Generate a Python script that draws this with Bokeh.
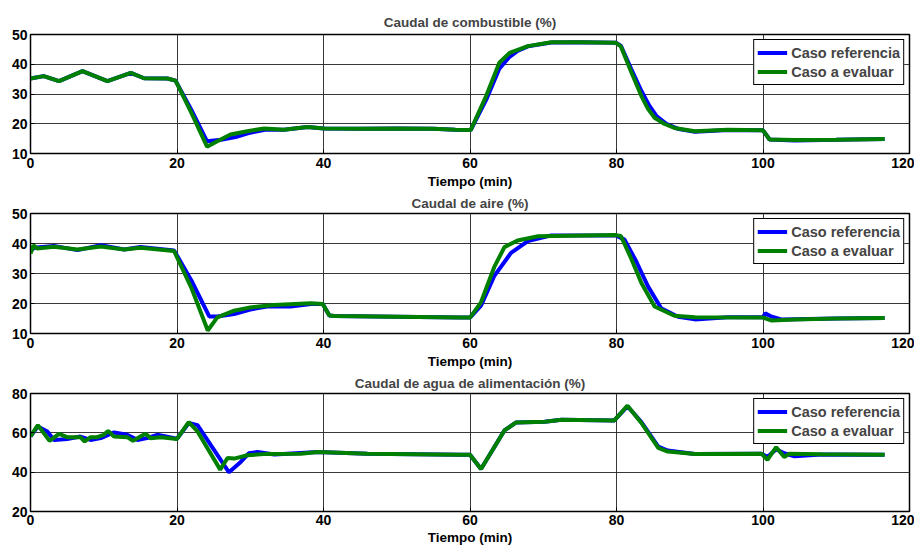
from bokeh.plotting import figure
from bokeh.layouts import column
from bokeh.embed import file_html
from bokeh.resources import INLINE

# ---------------- data ----------------
# Panel 1: Caudal de combustible (%)
t_comb_ref = [0, 1.8, 3.9, 7.1, 10.5, 13.7, 15.5, 18.7, 19.8, 22, 24.1, 26, 28, 30, 32, 34.6, 37.8, 40.1, 45, 50, 55, 58, 60.1,
              62.2, 64, 65.4, 66.5, 67.9, 71.1, 75, 79.9, 80.6, 82, 83.4, 84.5, 85.5, 86.8, 88.5, 90.7, 95.2, 100, 100.9,
              104.3, 110, 116.6]
y_comb_ref = [35.2, 36, 34.3, 37.7, 34.3, 37.1, 35.3, 35.2, 34.5, 24.5, 14.1, 14.6, 15.5, 17, 18, 18, 18.9, 18.4, 18.3, 18.4, 18.3, 18, 17.9,
              28, 38.5, 42.5, 44.5, 46, 47.3, 47.4, 47.2, 46.2, 38.5, 31, 26, 22.5, 20, 18.2, 17.3, 17.9, 17.8, 14.7,
              14.4, 14.6, 14.9]
t_comb_eval = [0, 1.8, 3.9, 7.1, 10.5, 13.7, 15.5, 18.7, 19.8, 22, 24.1, 25.5, 27.3, 29.6, 31.9, 34.6, 37.8, 40.1, 45, 50, 55, 58, 60.1,
               62.2, 64, 65.4, 67.9, 71.1, 75, 79.9, 80.6, 82, 83.4, 84.3, 85.2, 86.5, 87.9, 90.7, 95.2, 100, 100.9,
               104.3, 110, 116.6]
y_comb_eval = [35.2, 36, 34.3, 37.7, 34.3, 37.1, 35.3, 35.2, 34.5, 23.5, 12.3, 14.1, 16.4, 17.5, 18.4, 18, 18.9, 18.4, 18.3, 18.4, 18.3, 18, 17.9,
               29.3, 40.5, 43.8, 46.1, 47.4, 47.4, 47.2, 46, 37.5, 29.3, 25, 22, 20, 18.6, 17.5, 18, 17.8, 14.7,
               14.5, 14.6, 14.9]

# Panel 2: Caudal de aire (%)
t_aire_ref = [0, 0.5, 3.2, 6.4, 9.6, 12.8, 15, 19.6, 22, 24.4, 25.5, 27.8, 30, 32.3, 35.5, 38.3, 39.9, 40.8, 41.5, 50, 58.8, 60,
              61.5, 63.3, 65.6, 67.9, 71.1, 79.9, 81.1, 82.7, 84.3, 86.1, 88.4, 90.7, 95.2, 100, 100.3, 101.2, 102.5, 110, 116.6]
y_aire_ref = [37.5, 38.6, 39.2, 37.8, 39.4, 38, 38.8, 37.7, 27.5, 15.7, 15.7, 16.5, 18, 19, 19, 19.8, 19.8, 16, 15.8, 15.6, 15.3, 15.3,
              19.3, 29.1, 36.9, 40.8, 42.7, 42.7, 41.3, 34, 25.7, 18.4, 15.6, 14.7, 15.4, 15.4, 16.7, 15.6, 14.7, 15, 15.2]
t_aire_eval = [0, 0.4, 0.9, 3.2, 6.4, 9.6, 12.8, 15, 19.6, 22, 24.2, 25.5, 27.8, 30, 33.2, 38.3, 39.9, 40.8, 41.5, 50, 58.8, 60,
               61.5, 63.3, 64.7, 66.5, 69.3, 79.9, 80.6, 82, 83.4, 85.2, 87.9, 90.7, 100, 101.2, 104.3, 110, 116.6]
y_aire_eval = [36.6, 39.4, 38.3, 38.9, 38, 39, 38, 38.6, 37.5, 25, 11, 15.4, 17.6, 18.7, 19.5, 20.1, 19.8, 16, 15.8, 15.6, 15.3, 15.3,
               20.4, 32.1, 38.8, 41, 42.4, 42.8, 42.5, 35, 26.8, 19, 15.9, 15.4, 15.3, 14.3, 14.7, 15, 15.2]

# Panel 3: Caudal de agua de alimentación (%)
t_agua_ref = [0, 1, 2.3, 3.2, 5, 6.8, 8.2, 9.6, 11.4, 13.2, 14.6, 15.9, 17.3, 20, 21.6, 22.8, 27.1, 28.7, 29.8, 31, 33.3, 39.2, 46,
              58.8, 60, 61.5, 64.7, 66.3, 70.2, 72.5, 79.7, 81.5, 83.4, 85.7, 87, 90.7, 99.8, 100.6, 101.8, 102.9, 104.3, 108, 116.6]
y_agua_ref = [58.2, 63.2, 60.7, 56.4, 56.8, 58.1, 56.4, 57.3, 60.2, 59, 56.4, 57.3, 59, 57, 65, 63.9, 39.9, 45.2, 49.6, 50.3, 49, 50.2, 49.4,
              48.9, 48.9, 41.6, 61.2, 65.3, 65.6, 66.6, 66.3, 73.5, 65.5, 53, 51, 49.2, 49.4, 47.7, 51.7, 49.6, 48.1, 49, 48.9]
t_agua_eval = [0, 1, 2.6, 3.9, 5, 6.8, 7.4, 8.2, 9.1, 10, 10.6, 11.4, 13.2, 14, 15, 15.7, 16.4, 17.8, 20, 21.6, 22.8, 25.9, 26.9,
               27.8, 29.6, 32.3, 36.9, 39.2, 46, 58.8, 60, 61.5, 64.7, 66.3, 70.2, 72.5, 79.7, 81.5, 83.4, 85.7, 87, 90.7,
               99.8, 100.6, 101.8, 102.9, 103.6, 108, 116.6]
y_agua_eval = [58.2, 63.9, 55.9, 59.5, 57.8, 57.8, 55.6, 57.8, 57.8, 59, 61, 58.1, 57.8, 55.9, 58.1, 59.5, 57.3, 57.8, 56.9, 65.5, 60.7, 41.3, 47.2,
               46.9, 48.6, 49.3, 49.4, 50.3, 49.4, 48.9, 48.9, 41.6, 61.2, 65.3, 65.6, 66.6, 66.3, 73.8, 65, 52.3, 50.5, 49.2,
               49.4, 46.3, 52.7, 47.7, 49.4, 49.1, 48.9]

titles = ["Caudal de combustible (%)", "Caudal de aire (%)", "Caudal de agua de alimentación (%)"]
x_label = "Tiempo (min)"
x_ticks = [0, 20, 40, 60, 80, 100, 120]
y_ticks_list = [[10, 20, 30, 40, 50], [10, 20, 30, 40, 50], [20, 40, 60, 80]]
y_ranges = [(10, 50), (10, 50), (20, 80)]
legend_labels = ["Caso referencia", "Caso a evaluar"]

series = [
    (t_comb_ref, y_comb_ref, t_comb_eval, y_comb_eval),
    (t_aire_ref, y_aire_ref, t_aire_eval, y_aire_eval),
    (t_agua_ref, y_agua_ref, t_agua_eval, y_agua_eval),
]

FONT = "Liberation Sans"
frame_heights = [119, 120, 118]
borders_top = [34, 22, 22]
borders_bottom = [38, 38, 36]
title_standoffs = [9, 5, 5]
tick_standoffs = [4, 4, 3]
label_standoffs = [3, 3, 2]

figs = []
for i in range(3):
    p = figure(frame_width=879, frame_height=frame_heights[i],
               x_range=(0, 120), y_range=y_ranges[i],
               output_backend="svg", toolbar_location=None,
               min_border_left=30, min_border_right=5,
               min_border_top=borders_top[i], min_border_bottom=borders_bottom[i])
    p.title.text = titles[i]
    p.title.align = "center"
    p.title.text_font = FONT
    p.title.text_font_style = "bold"
    p.title.text_font_size = "13.5px"
    p.title.standoff = title_standoffs[i]
    p.title.offset = 0

    tr, yr, te, ye = series[i]
    p.line(tr, yr, line_color="#0000FF", line_width=4, legend_label=legend_labels[0])
    p.line(te, ye, line_color="#008000", line_width=4, legend_label=legend_labels[1])

    p.xaxis.ticker = x_ticks
    p.yaxis.ticker = y_ticks_list[i]
    p.xaxis.axis_label = x_label
    for ax in (p.xaxis[0], p.yaxis[0]):
        ax.major_label_text_font = FONT
        ax.major_label_text_font_style = "bold"
        ax.major_label_text_font_size = "14px"
        ax.major_label_text_color = "black"
        ax.axis_label_text_font = FONT
        ax.axis_label_text_font_style = "bold"
        ax.axis_label_text_font_size = "13.5px"
        ax.axis_label_text_color = "black"
        ax.major_tick_in = 4
        ax.major_tick_out = 0
        ax.minor_tick_in = 0
        ax.minor_tick_out = 0
        ax.axis_line_color = "black"
        ax.major_tick_line_color = "black"
    p.xaxis.major_label_standoff = tick_standoffs[i]
    p.xaxis.axis_label_standoff = label_standoffs[i]
    p.yaxis.major_label_standoff = 3
    p.xgrid.grid_line_color = "#222222"
    p.ygrid.grid_line_color = "#222222"
    p.xgrid.grid_line_alpha = 0.9
    p.ygrid.grid_line_alpha = 0.9
    p.outline_line_color = "black"
    p.outline_line_width = 1.5
    p.outline_line_alpha = 1

    lg = p.legend[0]
    lg.location = "top_right"
    lg.border_line_color = "black"
    lg.border_line_width = 1.5
    lg.border_line_alpha = 1
    lg.background_fill_alpha = 1
    lg.label_text_font = FONT
    lg.label_text_font_style = "bold"
    lg.label_text_font_size = "14.5px"
    lg.glyph_width = 30
    lg.glyph_height = 19
    lg.label_height = 19
    lg.spacing = 0
    lg.padding = 3
    lg.margin = 5
    lg.label_standoff = 4
    figs.append(p)

layout = column(*figs, spacing=0)
open("out.html", "w").write(file_html(layout, INLINE))
